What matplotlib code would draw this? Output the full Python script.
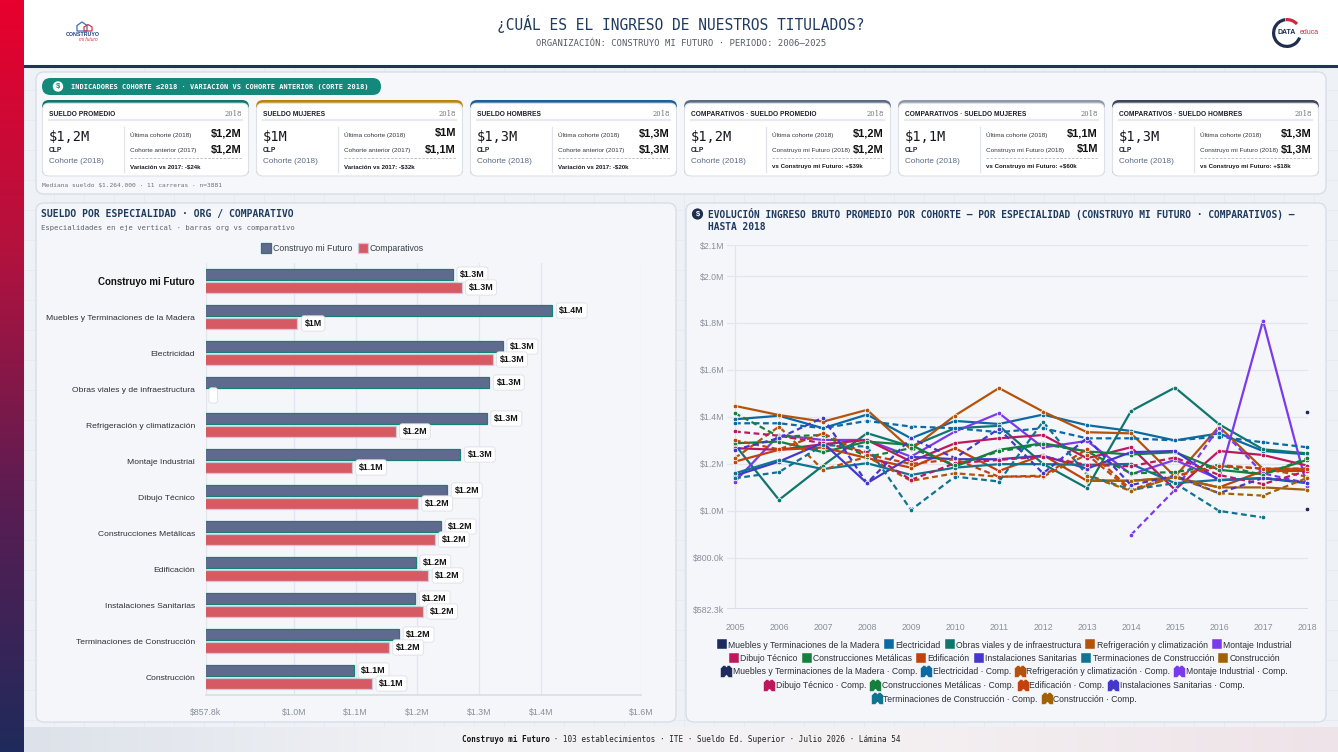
import numpy as np
import matplotlib
matplotlib.use("Agg")
import matplotlib.pyplot as plt
from matplotlib.patches import FancyBboxPatch, Circle, Wedge, Rectangle, Polygon
from matplotlib.lines import Line2D
from matplotlib.path import Path
from matplotlib.colors import LinearSegmentedColormap

plt.rcParams['text.parse_math'] = False
SANS = ['Liberation Sans', 'DejaVu Sans']
NARROW = ['Liberation Sans Narrow', 'Liberation Sans', 'DejaVu Sans']
MONO = ['DejaVu Sans Mono', 'DejaVu Sans']
plt.rcParams['font.family'] = SANS

W, H = 1338, 752
N = np.nan

# ---------------- DATA ----------------
title = "¿CUÁL ES EL INGRESO DE NUESTROS TITULADOS?"
subtitle = "ORGANIZACIÓN: CONSTRUYO MI FUTURO · PERIODO: 2006–2025"

card_titles = ["SUELDO PROMEDIO", "SUELDO MUJERES", "SUELDO HOMBRES",
               "COMPARATIVOS · SUELDO PROMEDIO", "COMPARATIVOS · SUELDO MUJERES",
               "COMPARATIVOS · SUELDO HOMBRES"]
card_main = ["$1,2M", "$1M", "$1,3M", "$1,2M", "$1,1M", "$1,3M"]
card_r1_label = ["Última cohorte (2018)"] * 6
card_r1_val = ["$1,2M", "$1M", "$1,3M", "$1,2M", "$1,1M", "$1,3M"]
card_r2_label = ["Cohorte anterior (2017)", "Cohorte anterior (2017)", "Cohorte anterior (2017)",
                 "Construyo mi Futuro (2018)", "Construyo mi Futuro (2018)", "Construyo mi Futuro (2018)"]
card_r2_val = ["$1,2M", "$1,1M", "$1,3M", "$1,2M", "$1M", "$1,3M"]
card_foot = ["Variación vs 2017: -$24k", "Variación vs 2017: -$32k", "Variación vs 2017: -$20k",
             "vs Construyo mi Futuro: +$39k", "vs Construyo mi Futuro: +$60k", "vs Construyo mi Futuro: +$18k"]
card_colors = ["#0f766e", "#b8860b", "#1d5f99", "#5b6b82", "#8d99ab", "#3b4658"]

categories = ["Construyo mi Futuro", "Muebles y Terminaciones de la Madera", "Electricidad",
              "Obras viales y de infraestructura", "Refrigeración y climatización",
              "Montaje Industrial", "Dibujo Técnico", "Construcciones Metálicas", "Edificación",
              "Instalaciones Sanitarias", "Terminaciones de Construcción", "Construcción"]
org_vals = [1.258, 1.419, 1.339, 1.317, 1.313, 1.270, 1.249, 1.239, 1.198, 1.197, 1.171, 1.098]
comp_vals = [1.272, 1.006, 1.322, N, 1.165, 1.094, 1.201, 1.228, 1.218, 1.209, 1.154, 1.127]
bar_xticks = [0.8578, 1.0, 1.1, 1.2, 1.3, 1.4, 1.5625]
bar_xticklabels = ["$857.8k", "$1.0M", "$1.1M", "$1.2M", "$1.3M", "$1.4M", "$1.6M"]

years = [2005, 2006, 2007, 2008, 2009, 2010, 2011, 2012, 2013, 2014, 2015, 2016, 2017, 2018]
esp_names = ["Muebles y Terminaciones de la Madera", "Electricidad", "Obras viales y de infraestructura",
             "Refrigeración y climatización", "Montaje Industrial", "Dibujo Técnico",
             "Construcciones Metálicas", "Edificación", "Instalaciones Sanitarias",
             "Terminaciones de Construcción", "Construcción"]
esp_colors = ["#1e2b5e", "#0b69a3", "#0f766e", "#b45309", "#7c3aed", "#be185d",
              "#15803d", "#c2410c", "#4338ca", "#0e7490", "#a16207"]

s_muebles = [N, N, N, N, N, N, N, N, N, N, N, N, N, 1.419]
s_electricidad = [1.390, 1.405, 1.352, 1.410, 1.309, 1.383, 1.370, 1.410, 1.365, 1.340, 1.300, 1.330, 1.255, 1.241]
s_obras = [1.281, 1.047, 1.193, 1.331, 1.274, 1.352, 1.362, 1.200, 1.097, 1.425, 1.525, 1.369, 1.262, 1.245]
s_refrig = [1.447, 1.408, 1.380, 1.430, 1.262, 1.406, 1.523, 1.423, 1.335, 1.330, 1.146, 1.359, 1.179, 1.179]
s_montaje = [1.125, 1.323, 1.302, 1.302, 1.231, 1.338, 1.416, 1.270, 1.298, 1.156, 1.217, 1.135, 1.810, 1.104]
s_dibujo = [1.267, 1.260, 1.284, 1.302, 1.210, 1.288, 1.309, 1.323, 1.224, 1.271, 1.090, 1.255, 1.238, 1.193]
s_metalicas = [1.288, 1.295, 1.250, 1.295, 1.281, 1.189, 1.260, 1.288, 1.253, 1.240, 1.250, 1.175, 1.156, 1.217]
s_edif = [1.210, 1.260, 1.270, 1.225, 1.184, 1.267, 1.170, 1.238, 1.128, 1.128, 1.142, 1.100, 1.170, 1.170]
s_sanit = [1.150, 1.210, 1.290, 1.118, 1.230, 1.220, 1.220, 1.235, 1.180, 1.250, 1.255, 1.130, 1.140, 1.120]
s_termin = [1.160, 1.217, 1.178, 1.203, 1.153, 1.184, 1.199, 1.199, 1.196, 1.200, 1.118, 1.132, 1.139, 1.118]
s_constr = [N, N, N, N, N, N, N, N, 1.130, 1.128, 1.142, 1.100, 1.100, 1.090]

c_muebles = [N, N, N, N, N, N, N, N, N, N, N, N, N, 1.006]
c_electricidad = [1.373, 1.373, 1.352, 1.383, 1.359, 1.352, 1.335, 1.352, 1.309, 1.309, 1.300, 1.316, 1.292, 1.271]
c_refrig = [1.225, 1.359, 1.175, 1.231, 1.128, 1.160, 1.146, 1.146, 1.240, 1.085, 1.146, 1.195, 1.180, 1.146]
c_montaje = [N, N, N, N, N, N, N, N, N, 0.898, 1.090, 1.355, 1.160, 1.118]
c_dibujo = [1.338, 1.320, 1.288, 1.250, 1.132, 1.203, 1.217, 1.231, 1.196, 1.190, 1.227, 1.153, 1.114, 1.170]
c_metalicas = [1.416, 1.316, 1.323, 1.230, 1.267, 1.196, 1.253, 1.284, 1.253, 1.160, 1.165, 1.196, 1.153, 1.224]
c_edif = [1.300, 1.262, 1.330, 1.240, 1.200, 1.220, 1.145, 1.150, 1.262, 1.090, 1.150, 1.190, 1.180, 1.180]
c_sanit = [1.260, 1.310, 1.397, 1.118, 1.309, 1.225, 1.350, 1.160, 1.310, 1.110, 1.150, 1.075, 1.140, 1.120]
c_termin = [1.139, 1.165, 1.280, 1.274, 1.004, 1.146, 1.125, 1.380, 1.153, 1.090, 1.118, 1.000, 0.972, N]
c_constr = [N, N, N, N, N, N, N, N, 1.150, 1.085, 1.146, 1.075, 1.065, 1.140]

line_yticks = [0.5823, 0.8, 1.0, 1.2, 1.4, 1.6, 1.8, 2.0, 2.132]
line_yticklabels = ["$582.3k", "$800.0k", "$1.0M", "$1.2M", "$1.4M", "$1.6M", "$1.8M", "$2.0M", "$2.1M"]

org_series = [s_muebles, s_electricidad, s_obras, s_refrig, s_montaje, s_dibujo,
              s_metalicas, s_edif, s_sanit, s_termin, s_constr]
comp_series = [c_muebles, c_electricidad, None, c_refrig, c_montaje, c_dibujo,
               c_metalicas, c_edif, c_sanit, c_termin, c_constr]

# ---------------- FIGURE ----------------
fig = plt.figure(figsize=(W / 100, H / 100), dpi=100)
fig.patch.set_facecolor('#eef1f5')
bg = fig.add_axes([0, 0, 1, 1])
bg.set_xlim(0, W)
bg.set_ylim(H, 0)
bg.axis('off')


def rbox(x0, y0, x1, y1, r, fc, ec='none', lw=0.8, z=1):
    bg.add_patch(FancyBboxPatch((x0, y0), x1 - x0, y1 - y0,
                                boxstyle=f"round,pad=0,rounding_size={r}",
                                fc=fc, ec=ec, lw=lw, zorder=z))


def T(x, y, s, size, color='#222222', ha='left', va='center', weight='normal', family=None, z=5, **kw):
    bg.text(x, y, s, fontsize=size, color=color, ha=ha, va=va, fontweight=weight,
            family=family if family is not None else SANS, zorder=z, **kw)


# faint page grid
for gx in range(24, W, 30):
    bg.plot([gx, gx], [0, H], color='#e5e8ee', lw=0.5, zorder=0.2)
for gy in range(0, H, 30):
    bg.plot([0, W], [gy, gy], color='#e5e8ee', lw=0.5, zorder=0.2)

# header
bg.add_patch(Rectangle((24, 0), W - 24, 65, fc='white', ec='none', zorder=1))
bg.plot([24, W], [66, 66], color='#1f3558', lw=2.2, zorder=2)
T(681, 24, title, 10.5, color='#1f3a5f', ha='center', family=MONO)
T(681, 43, subtitle, 6.4, color='#555b66', ha='center', family=MONO)

# left strip gradient
cmap = LinearSegmentedColormap.from_list('strip', ['#e8002d', '#b3123e', '#5a1d52', '#1f2a5c'])
grad = np.linspace(0, 1, 256).reshape(-1, 1)
bg.imshow(grad, cmap=cmap, extent=(0, 24, H, 0), aspect='auto', zorder=3)

# footer gradient
fcmap = LinearSegmentedColormap.from_list('foot', ['#dde2ea', '#f2f3f6', '#f4f0f2', '#eee3e8'])
fgrad = np.linspace(0, 1, 256).reshape(1, -1)
bg.imshow(fgrad, cmap=fcmap, extent=(24, W, H, 727), aspect='auto', zorder=1)
foot_bold = "Construyo mi Futuro"
foot_rest = " · 103 establecimientos · ITE · Sueldo Ed. Superior · Julio 2026 · Lámina 54"
cw = 4.62
fx0 = 681 - (len(foot_bold) + len(foot_rest)) * cw / 2
T(fx0, 739, foot_bold, 5.5, color='#111111', weight='bold', family=MONO)
T(fx0 + len(foot_bold) * cw, 739, foot_rest, 5.5, color='#222222', family=MONO)

# logos
bg.add_patch(Polygon([[77, 31], [77, 25.5], [82, 22], [87, 25.5], [87, 31]], closed=True,
                     fc='none', ec='#3b6fb6', lw=0.9, zorder=4))
bg.add_patch(Polygon([[84, 27], [88, 24.5], [92, 27], [92, 31], [84, 31]], closed=True,
                     fc='none', ec='#d9334a', lw=0.9, zorder=4))
T(83, 34.5, "CONSTRUYO", 3.8, color='#1f3a7a', ha='center', weight='bold')
T(88, 39.5, "mi futuro", 3.4, color='#d9334a', ha='center', style='italic')

bg.add_patch(Wedge((1287, 33), 15, 20, 262, width=3.2, fc='#1f2d4f', ec='none', zorder=4))
bg.add_patch(Wedge((1287, 33), 15, 264, 318, width=3.2, fc='#d0283e', ec='none', zorder=4))
T(1287, 33, "DATA", 5.0, color='#1f2d4f', ha='center', weight='bold', z=6)
T(1300, 33, "educa", 5.0, color='#d0283e', ha='left', z=6)

# ---------------- KPI PANEL ----------------
rbox(36, 72, 1326, 194, 8, '#f6f7fa', '#d6dce6', lw=0.9, z=1)
rbox(42, 78, 381, 95, 8.5, '#13897c', z=2)
bg.add_patch(Circle((58, 86.5), 5.2, fc='white', ec='none', zorder=4))
T(58, 86.8, "$", 5.5, color='#13897c', ha='center', weight='bold', z=5)
T(71, 86.5, "INDICADORES COHORTE ≤2018 · VARIACIÓN VS COHORTE ANTERIOR (CORTE 2018)", 5.05,
  color='white', weight='bold', family=MONO)

card_x0 = [42, 256, 470, 684, 898, 1112]
for i in range(6):
    x0 = card_x0[i]
    x1 = x0 + 207
    rbox(x0, 100, x1, 176, 7, card_colors[i], z=2)
    rbox(x0 + 0.5, 103.2, x1 - 0.5, 176, 6.5, 'white', '#dde1e8', lw=0.8, z=2.5)
    T(x0 + 7, 114, card_titles[i], 4.8, color='#1b1f2a', weight='bold', family=NARROW)
    T(x1 - 7, 114, "2018", 4.9, color='#6b6f78', ha='right', family=['DejaVu Serif'])
    bg.plot([x0 + 7, x1 - 7], [120, 120], color='#e8eaef', lw=1.6, zorder=3)
    T(x0 + 7, 137, card_main[i], 9.8, color='#14161c', family=MONO)
    T(x0 + 7, 150, "CLP", 4.8, color='#1b1f2a', weight='bold')
    T(x0 + 7, 161.5, "Cohorte (2018)", 5.9, color='#5b6b86')
    bg.plot([x0 + 82, x0 + 82], [127, 172], color='#e1e4ea', lw=0.9, zorder=3)
    T(x0 + 88, 134.5, card_r1_label[i], 4.6, color='#333740', family=NARROW)
    T(x1 - 7, 133, card_r1_val[i], 7.9, color='#111111', ha='right', weight='bold')
    T(x0 + 88, 150.5, card_r2_label[i], 4.6, color='#333740', family=NARROW)
    T(x1 - 7, 149, card_r2_val[i], 7.9, color='#111111', ha='right', weight='bold')
    bg.plot([x0 + 88, x1 - 7], [158, 158], color='#b9bec8', lw=0.7, ls=(0, (2.5, 1.5)), zorder=3)
    T(x0 + 88, 166.5, card_foot[i], 4.4, color='#15171c', weight='bold', family=NARROW)

T(42, 185, "Mediana sueldo $1.264.000 · 11 carreras · n=3881", 4.5, color='#6b717c', family=MONO)

# ---------------- LEFT PANEL (bars) ----------------
rbox(36, 203, 676, 722, 8, '#f4f6fa', '#d6dce6', lw=0.9, z=1)
T(41, 213.5, "SUELDO POR ESPECIALIDAD · ORG / COMPARATIVO", 7.0, color='#1f3a5f', weight='bold', family=MONO)
T(41, 228, "Especialidades en eje vertical · barras org vs comparativo", 5.2, color='#5b6270', family=MONO)

ORG_FC, ORG_EC = '#5f6a8e', '#1a7f74'
CMP_FC, CMP_EC = '#d65a64', '#c9ccd6'

ax1 = fig.add_axes([206 / W, 1 - 695 / H, (641 - 206) / W, (695 - 263) / H])
ax1.set_facecolor('none')
ypos = np.arange(len(categories))
org_arr = np.array(org_vals, dtype=float)
cmp_arr = np.array(comp_vals, dtype=float)
ax1.barh(ypos - 0.18, org_arr, height=0.32, color=ORG_FC, edgecolor=ORG_EC, linewidth=0.9, zorder=3)
mask = ~np.isnan(cmp_arr)
ax1.barh(ypos[mask] + 0.18, cmp_arr[mask], height=0.32, color=CMP_FC, edgecolor=CMP_EC, linewidth=0.9, zorder=3)
ax1.set_xlim(bar_xticks[0], bar_xticks[-1])
ax1.set_ylim(len(categories) - 0.5, -0.5)
ax1.set_xticks(bar_xticks)
ax1.set_xticklabels(bar_xticklabels)
ax1.set_yticks(ypos)
ax1.set_yticklabels(categories)
for k, lab in enumerate(ax1.get_yticklabels()):
    if k == 0:
        lab.set_fontweight('bold')
        lab.set_fontsize(7.0)
        lab.set_color('#111111')
    else:
        lab.set_fontsize(6.1)
        lab.set_color('#2b2f36')
ax1.tick_params(axis='y', length=0, pad=8)
ax1.tick_params(axis='x', length=0, pad=9, labelsize=6.3, labelcolor='#8a8f99')
ax1.grid(axis='x', color='#e2e6ee', lw=0.9, zorder=0)
ax1.set_axisbelow(True)
for sp in ['top', 'right']:
    ax1.spines[sp].set_visible(False)
ax1.spines['left'].set_color('#e3e6ec')
ax1.spines['bottom'].set_color('#d9dde5')
ax1.spines['bottom'].set_linewidth(1.2)


def fmt_bar(v):
    s = f"{v:.1f}".rstrip('0').rstrip('.')
    return f"${s}M"


box = dict(boxstyle='round,pad=0.35,rounding_size=0.3', fc='white', ec='#e0e3ea', lw=0.7)
for k in range(len(categories)):
    ax1.annotate(fmt_bar(org_arr[k]), xy=(org_arr[k], ypos[k] - 0.18), xytext=(7, 0),
                 textcoords='offset pixels', ha='left', va='center', fontsize=6.4,
                 fontweight='bold', color='#111111', bbox=box, zorder=5, annotation_clip=False)
    if mask[k]:
        ax1.annotate(fmt_bar(cmp_arr[k]), xy=(cmp_arr[k], ypos[k] + 0.18), xytext=(7, 0),
                     textcoords='offset pixels', ha='left', va='center', fontsize=6.4,
                     fontweight='bold', color='#111111', bbox=box, zorder=5, annotation_clip=False)
    else:
        ax1.annotate(" ", xy=(bar_xticks[0], ypos[k] + 0.18), xytext=(6, 0),
                     textcoords='offset pixels', ha='left', va='center', fontsize=6.4,
                     bbox=box, zorder=5, annotation_clip=False)

bar_handles = [Line2D([], [], marker='s', ls='none', markersize=7, markerfacecolor=ORG_FC,
                      markeredgecolor=ORG_EC, markeredgewidth=0.9),
               Line2D([], [], marker='s', ls='none', markersize=7, markerfacecolor=CMP_FC,
                      markeredgecolor=CMP_EC, markeredgewidth=0.9)]
fig.legend(bar_handles, ["Construyo mi Futuro", "Comparativos"], loc='center',
           bbox_to_anchor=(343 / W, 1 - 249 / H), ncol=2, frameon=False, fontsize=6.3,
           handlelength=0.9, handletextpad=0.3, columnspacing=0.8, labelcolor='#3a3f48')

# ---------------- RIGHT PANEL (lines) ----------------
rbox(686, 203, 1326, 722, 8, '#f4f6fa', '#d6dce6', lw=0.9, z=1)
bg.add_patch(Circle((697.5, 214), 5.6, fc='#1f2d4f', ec='none', zorder=4))
T(697.5, 214.3, "$", 5.4, color='white', ha='center', weight='bold', z=5)
T(708, 213.5, "EVOLUCIÓN INGRESO BRUTO PROMEDIO POR COHORTE — POR ESPECIALIDAD (CONSTRUYO MI FUTURO · COMPARATIVOS) —",
  6.95, color='#1f3a5f', weight='bold', family=MONO)
T(708, 226.5, "HASTA 2018", 6.95, color='#1f3a5f', weight='bold', family=MONO)

ax2 = fig.add_axes([727 / W, 1 - 609 / H, (1308 - 727) / W, (609 - 245) / H])
ax2.set_facecolor('none')
ax2.set_xlim(2005 - 8 / 44, 2018 + 1 / 44)
ax2.set_ylim(line_yticks[0], line_yticks[-1])
ax2.set_yticks(line_yticks)
ax2.set_yticklabels(line_yticklabels)
ax2.set_xticks(years)
ax2.set_xticklabels([str(y) for y in years])
ax2.tick_params(axis='y', length=0, pad=2, labelsize=6.3, labelcolor='#8a8f99')
ax2.tick_params(axis='x', length=0, pad=10, labelsize=6.3, labelcolor='#8a8f99')
ax2.grid(axis='y', color='#e3e6ee', lw=0.9, zorder=0)
ax2.set_axisbelow(True)
for sp in ax2.spines.values():
    sp.set_visible(False)
ax2.axhline(line_yticks[0], color='#d8dce4', lw=1.4, zorder=0.5)
ax2.axvline(2005, color='#dfe3ea', lw=0.9, zorder=0.5)

yrs = np.array(years)
for k in range(len(esp_names)):
    vals = np.array(org_series[k], dtype=float)
    ax2.plot(yrs, vals, color=esp_colors[k], lw=1.6, marker='o', markersize=3.3,
             markeredgecolor='white', markeredgewidth=0.5, clip_on=False, zorder=3)
for k in range(len(esp_names)):
    if comp_series[k] is None:
        continue
    vals = np.array(comp_series[k], dtype=float)
    ax2.plot(yrs, vals, color=esp_colors[k], lw=1.6, ls=(0, (2.6, 1.6)), marker='o', markersize=3.3,
             markeredgecolor='white', markeredgewidth=0.5, clip_on=False, zorder=3)

comp_marker = Path([(-1, -1), (-0.35, -1), (0, -0.6), (0.35, -1), (1, -1), (1, 0.55), (0.55, 1),
                    (0.2, 1), (0, 0.75), (-0.2, 1), (-0.55, 1), (-1, 0.55), (-1, -1)], closed=True)

org_h = {name: Line2D([], [], marker='s', ls='none', markersize=7.2, markerfacecolor=c,
                      markeredgecolor='white', markeredgewidth=0.3)
         for name, c in zip(esp_names, esp_colors)}
cmp_h = {name: Line2D([], [], marker=comp_marker, ls='none', markersize=8.5, markerfacecolor=c,
                      markeredgecolor='white', markeredgewidth=0.3)
         for name, c in zip(esp_names, esp_colors)}

rows = [
    [('o', esp_names[i]) for i in range(0, 5)],
    [('o', esp_names[i]) for i in range(5, 11)],
    [('c', esp_names[i]) for i in [0, 1, 3, 4]],
    [('c', esp_names[i]) for i in [5, 6, 7, 8]],
    [('c', esp_names[i]) for i in [9, 10]],
]
row_y = [645, 658.5, 672, 685.5, 699]
for row, ry in zip(rows, row_y):
    hs = [org_h[n] if t == 'o' else cmp_h[n] for t, n in row]
    ls = [n if t == 'o' else n + " · Comp." for t, n in row]
    fig.legend(hs, ls, loc='center', bbox_to_anchor=(1005 / W, 1 - ry / H), ncol=len(row),
               frameon=False, fontsize=6.2, handlelength=0.9, handletextpad=0.3,
               columnspacing=0.6, labelcolor='#2b2f36', borderpad=0, borderaxespad=0)

fig.savefig("out.png", dpi=100, facecolor=fig.get_facecolor())
